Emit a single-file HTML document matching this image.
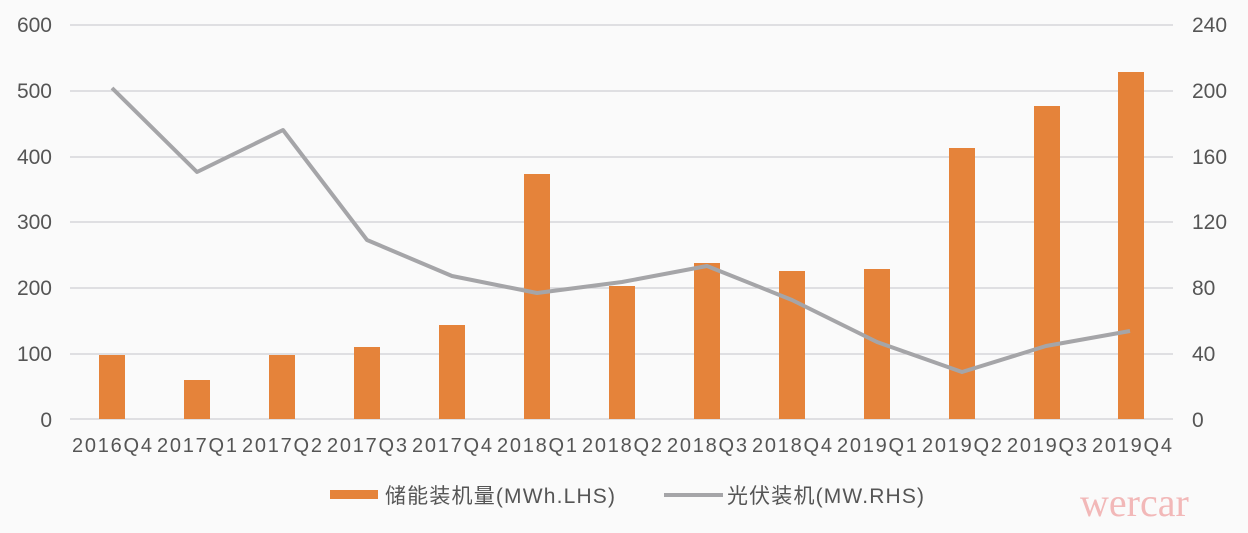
<!DOCTYPE html><html><head><meta charset="utf-8"><style>body{margin:0;background:#fafafa}</style></head><body>
<svg width="1248" height="528" xmlns="http://www.w3.org/2000/svg" font-family="Liberation Sans, Noto Sans CJK SC, sans-serif">
<rect width="1248" height="528" fill="#fafafa"/>
<g stroke="#cfcfd4" stroke-width="1.2">
<line x1="70" x2="1173" y1="25" y2="25"/><line x1="70" x2="1173" y1="91" y2="91"/><line x1="70" x2="1173" y1="157" y2="157"/><line x1="70" x2="1173" y1="222" y2="222"/><line x1="70" x2="1173" y1="288" y2="288"/><line x1="70" x2="1173" y1="354" y2="354"/><line x1="70" x2="1173" y1="419" y2="419"/>
</g>
<g font-size="21" fill="#555" text-anchor="end">
<text x="52" y="32">600</text><text x="52" y="98">500</text><text x="52" y="164">400</text><text x="52" y="229">300</text><text x="52" y="295">200</text><text x="52" y="361">100</text><text x="52" y="427">0</text>
</g>
<g font-size="21" fill="#555" text-anchor="start">
<text x="1192" y="32">240</text><text x="1192" y="98">200</text><text x="1192" y="164">160</text><text x="1192" y="229">120</text><text x="1192" y="295">80</text><text x="1192" y="361">40</text><text x="1192" y="427">0</text>
</g>
<g fill="#e5833a">
<rect x="99" y="355" width="26" height="64"/>
<rect x="184" y="380" width="26" height="39"/>
<rect x="269" y="355" width="26" height="64"/>
<rect x="354" y="347" width="26" height="72"/>
<rect x="439" y="325" width="26" height="94"/>
<rect x="524" y="174" width="26" height="245"/>
<rect x="609" y="286" width="26" height="133"/>
<rect x="694" y="263" width="26" height="156"/>
<rect x="779" y="271" width="26" height="148"/>
<rect x="864" y="269" width="26" height="150"/>
<rect x="949" y="148" width="26" height="271"/>
<rect x="1034" y="106" width="26" height="313"/>
<rect x="1118" y="72" width="26" height="347"/>
</g>
<polyline fill="none" stroke="#a5a5a8" stroke-width="4" stroke-linejoin="round" points="112,88 197,172 283,130 367,240 452,276 537,293 622,282 707,266 792,300 877,342 962,372 1046,346 1130,331"/>
<g font-size="20" fill="#555" text-anchor="middle">
<text x="112" y="452" textLength="80">2016Q4</text><text x="197" y="452" textLength="80">2017Q1</text><text x="282" y="452" textLength="80">2017Q2</text><text x="367" y="452" textLength="80">2017Q3</text><text x="452" y="452" textLength="80">2017Q4</text><text x="537" y="452" textLength="80">2018Q1</text><text x="622" y="452" textLength="80">2018Q2</text><text x="707" y="452" textLength="80">2018Q3</text><text x="792" y="452" textLength="80">2018Q4</text><text x="877" y="452" textLength="80">2019Q1</text><text x="962" y="452" textLength="80">2019Q2</text><text x="1047" y="452" textLength="80">2019Q3</text><text x="1132" y="452" textLength="80">2019Q4</text>
</g>
<rect x="330" y="490" width="48" height="9" fill="#e5833a"/>
<text x="385" y="503" font-size="21" fill="#555" textLength="230">储能装机量(MWh.LHS)</text>
<line x1="664" x2="723" y1="495" y2="495" stroke="#a5a5a8" stroke-width="4"/>
<text x="727" y="503" font-size="21" fill="#555" textLength="197">光伏装机(MW.RHS)</text>
<text x="1080" y="516" font-size="40" fill="#f2b8b8" font-family="Liberation Serif, serif">wercar</text>
</svg>
</body></html>
